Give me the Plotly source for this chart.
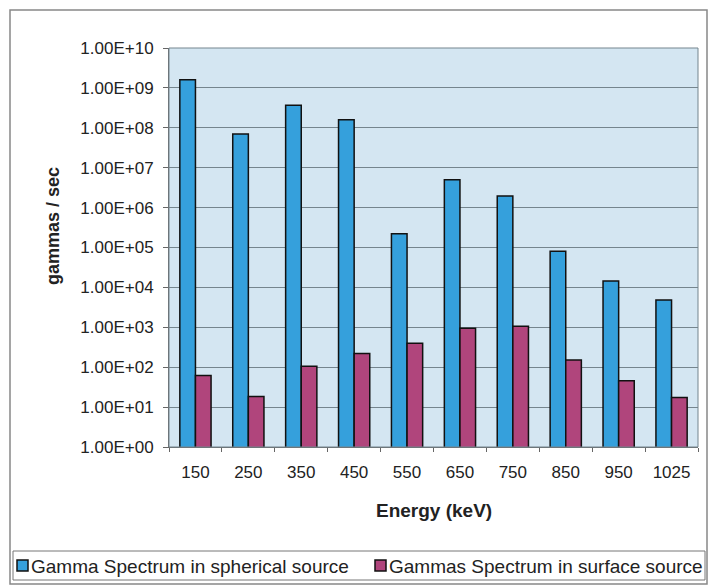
import plotly.graph_objects as go

energies = ["150", "250", "350", "450", "550", "650", "750", "850", "950", "1025"]
spherical = [1.6e9, 7.0e7, 3.7e8, 1.6e8, 2.2e5, 5.0e6, 1.95e6, 8.0e4, 1.45e4, 4.8e3]
surface = [62, 18.5, 106, 220, 400, 950, 1070, 152, 46, 17.5]
tick_exponents = list(range(0, 11))
tick_values = [10 ** k for k in tick_exponents]
tick_labels = ["1.00E+%02d" % k for k in tick_exponents]

series_names = ["Gamma Spectrum in spherical source", "Gammas Spectrum in surface source"]
colors = ["#35a0dc", "#b0457c"]

W, H = 709, 586
L, R, T, B = 169, 698, 48, 447
PW, PH = R - L, B - T


def px(x):
    return (x - L) / PW


def py(y):
    return (B - y) / PH


fig = go.Figure()
fig.add_trace(go.Bar(x=energies, y=spherical, name=series_names[0],
                     marker=dict(color=colors[0], line=dict(color="#111111", width=1.5))))
fig.add_trace(go.Bar(x=energies, y=surface, name=series_names[1],
                     marker=dict(color=colors[1], line=dict(color="#111111", width=1.5))))

font_family = "Liberation Sans, Arial, sans-serif"
fig.update_layout(
    width=W, height=H,
    margin=dict(l=L, r=W - R, t=T, b=H - B, autoexpand=False),
    paper_bgcolor="white",
    plot_bgcolor="#d4e6f2",
    barmode="group",
    bargap=0.41,
    bargroupgap=0,
    font=dict(family=font_family, size=16, color="#222222"),
    showlegend=False,
)
fig.update_xaxes(
    type="category",
    showline=True, linecolor="#666666", linewidth=1,
    ticks="outside", tickson="boundaries", ticklen=4, tickcolor="#666666",
    tickfont=dict(size=17), ticklabelstandoff=10,
)
fig.update_yaxes(
    type="log", range=[0, 10],
    tickvals=tick_values, ticktext=tick_labels,
    showgrid=True, gridcolor="#75858e", gridwidth=1,
    showline=True, linecolor="#666666", linewidth=1,
    ticks="outside", ticklen=5, tickcolor="#666666",
    tickfont=dict(size=17), ticklabelstandoff=6,
)
# axis titles
fig.add_annotation(text="<b>Energy (keV)</b>", xref="paper", yref="paper",
                   x=px((L + R) / 2), y=py(510), xanchor="center", yanchor="middle",
                   showarrow=False, font=dict(size=19, color="#222222"))
fig.add_annotation(text="<b>gammas / sec</b>", xref="paper", yref="paper",
                   x=px(53), y=py(226), xanchor="center", yanchor="middle",
                   textangle=-90, showarrow=False, font=dict(size=18, color="#222222"))
# plot frame (top/right border)
fig.add_shape(type="rect", xref="paper", yref="paper", x0=0, x1=1, y0=0, y1=1,
              line=dict(color="#75858e", width=1), fillcolor="rgba(0,0,0,0)", layer="above")
# outer chart frame
fig.add_shape(type="rect", xref="paper", yref="paper",
              x0=px(10), x1=px(707), y0=py(584), y1=py(10),
              line=dict(color="#888888", width=1.5), fillcolor="rgba(0,0,0,0)")
# legend box
fig.add_shape(type="rect", xref="paper", yref="paper",
              x0=px(13), x1=px(705), y0=py(580), y1=py(551),
              line=dict(color="#777777", width=1), fillcolor="rgba(0,0,0,0)")
# legend entries
legend_x = [17, 375]
for name, color, lx in zip(series_names, colors, legend_x):
    fig.add_shape(type="rect", xref="paper", yref="paper",
                  x0=px(lx), x1=px(lx + 11), y0=py(571), y1=py(560),
                  line=dict(color="#111111", width=1.5), fillcolor=color)
    fig.add_annotation(text=name, xref="paper", yref="paper",
                       x=px(lx + 12), y=py(566), xanchor="left", yanchor="middle",
                       showarrow=False, font=dict(size=19, color="#222222"))

fig.write_html("out.html", config={"displayModeBar": False},
               post_script="document.body.style.margin='0';document.body.style.padding='0';")
